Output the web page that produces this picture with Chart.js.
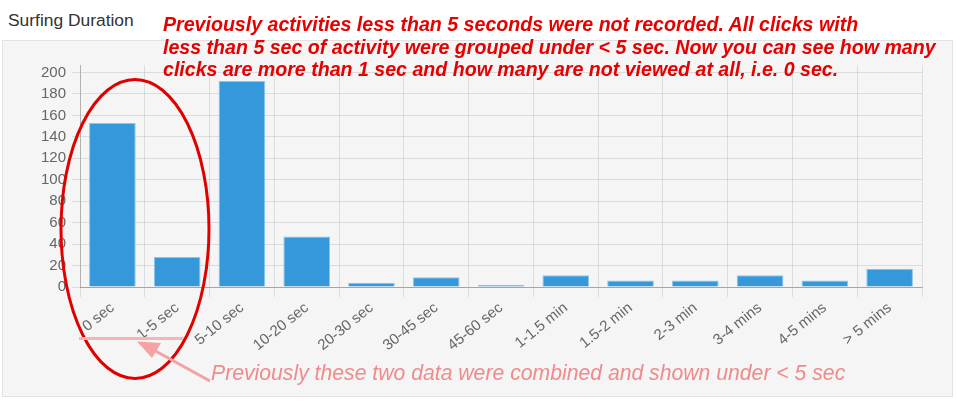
<!DOCTYPE html>
<html>
<head>
<meta charset="utf-8">
<script src="https://cdn.jsdelivr.net/npm/chart.js@4.4.1/dist/chart.umd.min.js"></script>
<style>
  html, body { margin: 0; padding: 0; background: #fff; }
  body { width: 958px; height: 402px; position: relative; overflow: hidden; font-family: "Liberation Sans", Arial, sans-serif; }
  #panel { position: absolute; left: 2px; top: 40px; width: 949px; height: 355px; background: #f5f5f5; border: 1px solid #e2e2e2; }
  #title { position: absolute; left: 8px; top: 12px; font-size: 17.4px; line-height: 17.4px; color: #333; }
  #note { position: absolute; left: 163px; top: 13px; font-size: 19.6px; line-height: 22.5px; color: #e60000; font-style: italic; font-weight: bold; white-space: nowrap; }
  #note2 { position: absolute; left: 211px; top: 362px; font-size: 21.2px; line-height: 21px; color: #f08b8b; font-style: italic; white-space: nowrap; }
  #chart { position: absolute; left: 0; top: 0; }
  #marks { position: absolute; left: 0; top: 0; pointer-events: none; }
</style>
</head>
<body>
<div id="panel"></div>
<div id="title">Surfing Duration</div>
<canvas id="chart" width="958" height="402"></canvas>
<svg id="marks" width="958" height="402">
  <!-- ring around the two split buckets -->
  <ellipse cx="135" cy="229" rx="74" ry="149.5" fill="none" stroke="#e00000" stroke-width="3"/>
  <!-- bracket under the two labels and the arrow pointing at it -->
  <line x1="79" y1="338.5" x2="183" y2="338.5" stroke="#f7b4b4" stroke-width="3"/>
  <line x1="210" y1="381" x2="150" y2="348" stroke="#f4a2a2" stroke-width="3"/>
  <polygon points="137,341.5 161,343 152,358" fill="#f4a2a2"/>
</svg>
<div id="note">Previously activities less than 5 seconds were not recorded. All clicks with<br>less than 5 sec of activity were grouped under &lt; 5 sec. Now you can see how many<br>clicks are more than 1 sec and how many are not viewed at all, i.e. 0 sec.</div>
<div id="note2">Previously these two data were combined and shown under &lt; 5 sec</div>
<script>
const durations = ['0 sec', '1-5 sec', '5-10 sec', '10-20 sec', '20-30 sec', '30-45 sec', '45-60 sec',
  '1-1.5 min', '1.5-2 min', '2-3 min', '3-4 mins', '4-5 mins', '> 5 mins'];
const clicks = [153, 28, 192, 47, 4, 9, 2, 11, 6, 6, 11, 6, 17];
const yTicks = [0, 20, 40, 60, 80, 100, 120, 140, 160, 180, 200];

const tickFont = { family: '"Liberation Sans", Arial, sans-serif', size: 15 };

const ctx = document.getElementById('chart').getContext('2d');
const surfChart = new Chart(ctx, {
  type: 'bar',
  data: {
    labels: durations,
    datasets: [
      { label: 'Clicks', data: clicks, backgroundColor: '#3498db', borderColor: '#8cc4ec', borderWidth: 1 }
    ]
  },
  options: {
    responsive: false,
    animation: false,
    layout: { padding: { top: 65, right: 36, left: 0, bottom: 0 } },
    plugins: { legend: { display: false }, tooltip: { enabled: false } },
    scales: {
      x: {
        afterFit: (scale) => { scale.height = 115; },
        grid: { offset: true, color: 'rgba(0,0,0,0.1)', tickLength: 10 },
        border: { color: 'rgba(0,0,0,0.25)' },
        ticks: { minRotation: 39, maxRotation: 39, padding: 2, color: '#666', font: tickFont }
      },
      y: {
        min: 0,
        max: 207,
        afterFit: (scale) => { scale.width = 80; },
        afterBuildTicks: (scale) => { scale.ticks = yTicks.map(v => ({ value: v })); },
        grid: { color: 'rgba(0,0,0,0.1)', tickLength: 8 },
        border: { color: 'rgba(0,0,0,0.2)' },
        ticks: { padding: 6, color: '#666', font: tickFont }
      }
    }
  }
});
</script>
</body>
</html>
